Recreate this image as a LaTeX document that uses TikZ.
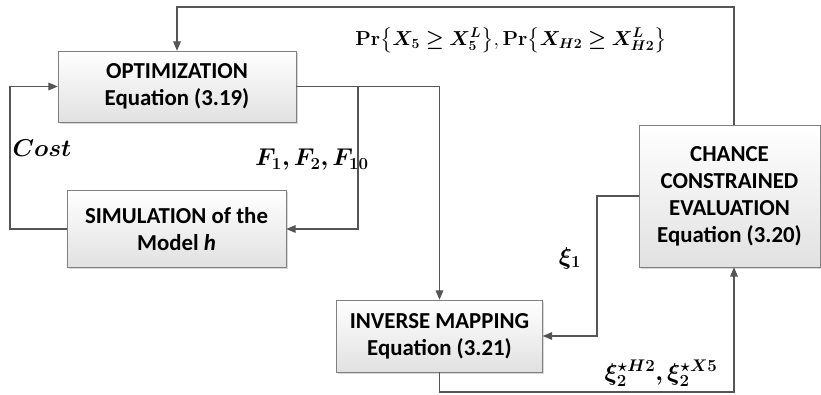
\documentclass[tikz,border=0pt]{standalone}
\usepackage{amsmath,amssymb}
\usepackage{bm}
\usepackage[no-math]{fontspec}
\newfontfamily\boxfont{Carlito}
\usetikzlibrary{arrows.meta,positioning,calc,shadows}
\definecolor{linegrey}{RGB}{85,85,85}
\definecolor{boxgrey}{RGB}{128,128,128}
\definecolor{fillgrey}{RGB}{225,225,225}

\begin{document}
\begin{tikzpicture}[x=0.03cm, y=-0.03cm,
  block/.style={draw=boxgrey, thin, top color=white, bottom color=fillgrey,
    drop shadow={shadow xshift=0.5mm, shadow yshift=-0.5mm, fill=black!30},
    align=center, inner sep=0pt,
    font=\boxfont\bfseries\fontsize{19.5}{23}\selectfont},
  flow/.style={draw=linegrey, line width=0.9pt,
    -{Triangle[length=2.8mm,width=2.3mm]}},
  lbl/.style={font=\fontsize{19.5}{22}\selectfont}]
  \useasboundingbox (0,0) rectangle (821,394);
  % Blocks
  \node[block, minimum width=7.14cm, minimum height=2.13cm] (opt) at (177,86.5)
    {OPTIMIZATION\\Equation (3.19)};
  \node[block, minimum width=6.57cm, minimum height=2.31cm] (sim) at (176.5,229)
    {SIMULATION of the\\Model \textit{h}};
  \node[block, minimum width=6.18cm, minimum height=2.16cm] (inv) at (439.5,336)
    {INVERSE MAPPING\\Equation (3.21)};
  \node[block, minimum width=5.43cm, minimum height=4.26cm] (chance) at (729.5,196)
    {CHANCE\\CONSTRAINED\\EVALUATION\\Equation (3.20)};
  % Routing coordinates
  \coordinate (toprun) at (0,7);
  \coordinate (botrun) at (0,392);
  \coordinate (leftrun) at (10,0);
  \coordinate (split) at (358,0);
  \coordinate (midrun) at (597,0);
  \coordinate (rightrun) at (734,0);
  % Probabilities back to the optimizer
  \draw[flow] (chance.north -| rightrun) |- (toprun -| opt.north) -- (opt.north);
  % Decision variables
  \draw[flow] (opt.east) -| (inv.north);
  \draw[flow] (opt.east -| split) |- (sim.east);
  % Cost loop
  \draw[flow] (sim.west) -| (leftrun |- opt.west) -- (opt.west);
  % xi_1 and xi_2
  \draw[flow] (chance.west) -| (midrun |- inv.east) -- (inv.east);
  \draw[flow] (inv.south) |- (botrun -| rightrun) -- (chance.south -| rightrun);
  % Labels
  \node[lbl, font=\fontsize{18}{21}\selectfont] (prlbl) at (511,40)
    {$\mathbf{Pr}\bigl\{\bm{X_5 \geq X_5^{L}}\bigr\},\mathbf{Pr}\bigl\{\bm{X_{H2} \geq X_{H2}^{L}}\bigr\}$};
  \node[lbl] (costlbl) at (42,148) {$\bm{Cost}$};
  \node[lbl] (flbl) at (312,160) {$\bm{F_1, F_2, F_{10}}$};
  \node[lbl] (xionelbl) at (570,258) {$\bm{\xi_1}$};
  \node[lbl] (xitwolbl) at (661,373) {$\bm{\xi_2^{\star H2}, \xi_2^{\star X5}}$};
\end{tikzpicture}
\end{document}
